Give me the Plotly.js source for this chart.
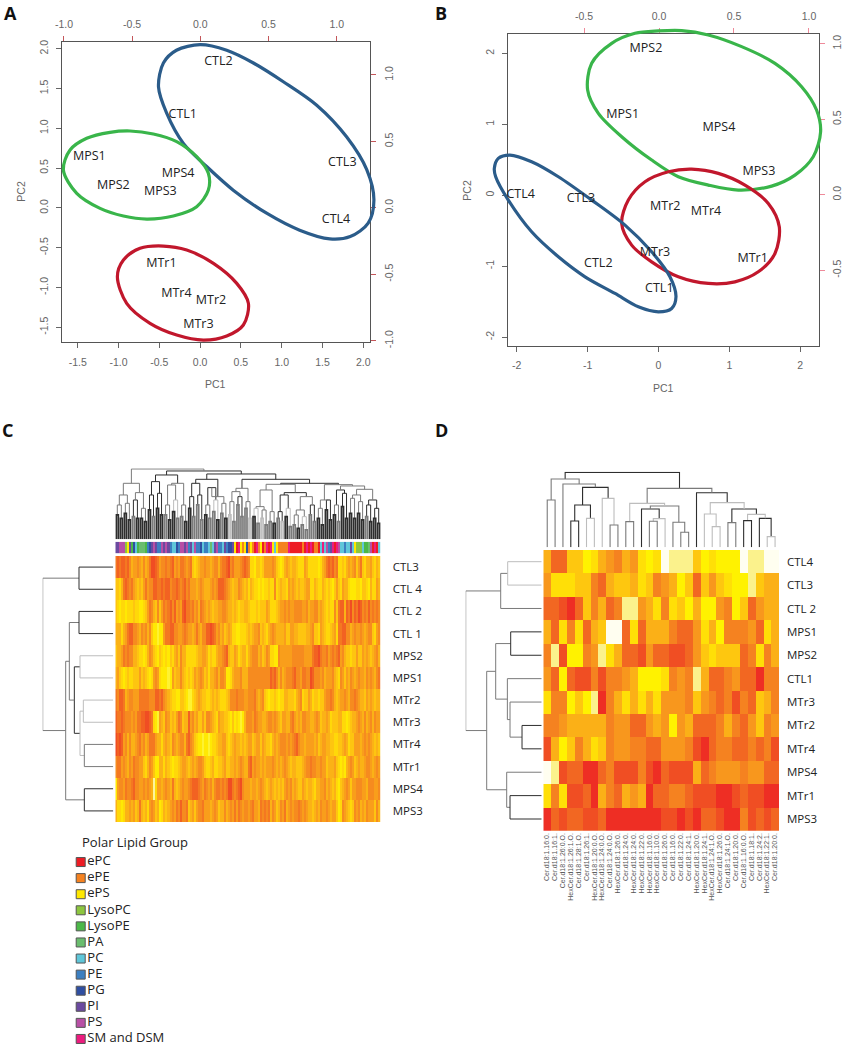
<!DOCTYPE html>
<html>
<head>
<meta charset="utf-8">
<script src="https://cdn.plot.ly/plotly-3.0.1.min.js"></script>
<style>html,body{margin:0;padding:0;background:#fff}#chart{width:850px;height:1050px}</style>
</head>
<body>
<div id="chart"></div>
<script>
// ---------- Panel A ----------
const aLabels = ['CTL1','CTL2','CTL3','CTL4','MPS1','MPS2','MPS3','MPS4','MTr1','MTr2','MTr3','MTr4'];
const aPC1 = [-0.213,0.224,1.743,1.666,-1.357,-1.063,-0.487,-0.27,-0.475,0.134,-0.021,-0.291];
const aPC2 = [1.167,1.832,0.568,-0.152,0.635,0.279,0.204,0.425,-0.705,-1.166,-1.472,-1.078];
const aBlueX = [0,0.326,0.653,1.02,1.429,1.797,2.042,2.13,2.06,1.84,1.59,1.22,0.82,0.41,0.08,-0.205,-0.41,-0.51,-0.45,-0.29,0];
const aBlueY = [2.05,1.98,1.82,1.585,1.29,0.89,0.48,0.10,-0.19,-0.36,-0.39,-0.28,-0.07,0.22,0.52,0.81,1.19,1.52,1.82,1.98,2.05];
const aGreenX = [-1.676,-1.594,-1.39,-1.104,-0.859,-0.573,-0.287,-0.042,0.101,0.101,-0.042,-0.328,-0.654,-0.94,-1.226,-1.512,-1.676];
const aGreenY = [0.476,0.727,0.874,0.949,0.966,0.928,0.832,0.643,0.434,0.224,0.015,-0.102,-0.14,-0.102,-0.006,0.183,0.476];
const aRedX = [-1.014,-0.94,-0.736,-0.45,-0.164,0.163,0.449,0.592,0.53,0.326,0.04,-0.287,-0.614,-0.9,-1.014];
const aRedY = [-0.864,-0.655,-0.508,-0.479,-0.529,-0.697,-0.948,-1.199,-1.471,-1.609,-1.66,-1.597,-1.45,-1.199,-0.864];
// ---------- Panel B ----------
const bLabels = ['MPS2','MPS1','MPS4','MPS3','CTL4','CTL3','CTL2','CTL1','MTr2','MTr4','MTr3','MTr1'];
const bPC1 = [-0.176,-0.505,0.853,1.417,-1.944,-1.093,-0.848,0.012,0.096,0.67,-0.049,1.328];
const bPC2 = [2.061,1.13,0.952,0.327,0.002,-0.054,-0.961,-1.314,-0.162,-0.233,-0.806,-0.895];
const bGreenX = [0,0.327,0.703,1.173,1.643,2.019,2.23,2.287,2.183,1.925,1.596,1.126,0.703,0.28,-0.096,-0.519,-0.848,-0.999,-0.942,-0.66,-0.331,0];
const bGreenY = [2.315,2.32,2.258,2.094,1.859,1.53,1.201,0.895,0.543,0.284,0.129,0.073,0.143,0.261,0.496,0.825,1.154,1.483,1.859,2.141,2.282,2.315];
const bRedX = [-0.519,-0.425,-0.19,0.139,0.468,0.844,1.22,1.549,1.704,1.643,1.408,1.079,0.703,0.28,-0.096,-0.378,-0.519];
const bRedY = [-0.397,-0.068,0.19,0.331,0.369,0.308,0.143,-0.115,-0.444,-0.82,-1.079,-1.22,-1.243,-1.149,-0.938,-0.703,-0.397];
const bBlueX = [-2.315,-2.259,-2.094,-1.789,-1.412,-0.942,-0.472,-0.096,0.162,0.247,0.186,0,-0.284,-0.613,-1.036,-1.412,-1.789,-2.118,-2.296,-2.315];
const bBlueY = [0.378,0.519,0.566,0.472,0.261,-0.068,-0.421,-0.797,-1.149,-1.431,-1.596,-1.643,-1.572,-1.384,-1.149,-0.867,-0.515,-0.068,0.261,0.378];
// ---------- Panel C ----------
const cRowLabels = ['CTL3','CTL 4','CTL 2','CTL 1','MPS2','MPS1','MTr2','MTr3','MTr4','MTr1','MPS4','MPS3'];
const cRows = [
'21211213544 34535420012 43323214342 23432676544 34454335322 10324443212 37786676444 43467875456 55677745777 77875421213 27767545436 42675546756',
'66752123245 65642433112 21211322123 21324445434 55543431112 34565534565 75677878776 77376566745 45656654477 56775676786 46745578887 78667857745',
'67877877767 78876423563 64232131434 10223243523 45456554433 45565676655 67776766645 77765443434 43333443544 33545676773 62115120312 01323132323',
'55575421133 45343536889 88422113344 32344542453 31101243546 54577887776 56544365675 43455554664 45566665543 66745677654 72211335434 43454336743',
'65542323355 67787534678 67878675463 55777776554 45767754432 15664576557 54333546534 77883444444 33333344442 11023324323 21435667664 66454565435',
'54678767766 64656787434 78889846553 56767645434 65755435334 88754443555 33333333333 12135354333 21334223301 33343544435 67346453454 34453434532',
'23112543344 42222233311 21345677886 67899765456 67765656777 65333233344 33324543678 77678775566 67543766457 66766433235 65443453323 45564545655',
'12212333434 22110012789 45634656423 65514354664 63345674556 67868789853 33423445543 34345644553 24545334455 43465545766 65577876554 34535435344',
'01014353554 32435422245 57545634543 35213467889 88987765544 67654556565 44654464566 75454333434 32134454444 54654455667 76654576644 45434345656',
'32243453423 34467534688 55756787765 44565454334 67765776654 66554543455 21434454544 43454543456 55666543323 34434465554 67878543465 45543345434',
'84334233213 34434345a74 45434525654 34432111234 23435322323 20023210344 45445434565 45656564343 54566456556 75544354565 78654346443 33445333443',
'57787554546 52565743465 87565434231 33265464332 44454346553 54342423433 43244523232 53465342543 43323434556 54534434544 68734567634 35453444635'
];
const cGroupBar = 'jjkkkdcjeig efffehijkjh hkjkjhggihk kjkhjgkhhig hhgfgjkhhgj hiijcalcbci bcbalbcabla lcgcbbbbbla aaaaabalala bbaglgkhjla lkgghggjgcd ddgeefkalag';
const legendGroups = ['ePC','ePE','ePS','LysoPC','LysoPE','PA','PC','PE','PG','PI','PS','SM and DSM'];
const legendColors = ['#ed1c24','#f58220','#ffe800','#8dc63f','#4cb848','#6abd6e','#5fc6d9','#3c7fc1','#2f4fa2','#6b4aa0','#b84fa5','#ec1c7e'];
// column dendrogram of C: heights are read as y positions of the merge lines
const cPairTops = [195,205,190,210,200,205,205,215,180,200,175,195,195,210,185,205,200,215,175,200,165,210,195,205,185,210,190,205,195,215,165,200,175,205,200,220,205,225,215,220,205,215,200,230,225,235,225,240,195,215,205,225,180,210,195,215,170,205,190,205,190,210,200,215,205,220];
const cPairTones = '000010000100100110011101101021111201211012011011110000010000001000 00'.replace(/ /g,'');
const cGroupTops = [165,160,150,175,135,130,165,150,165,140,135,165,150,160,155,140,155,175,180,185,185,175,195,200,165,175,150,165,130,145,155,165,175];
const cGroupTones = [1,1,0,1,0,0,1,2,1,0,0,1,2,1,1,0,1,2,1,1,0,2,1,2,0,1,0,1,0,1,1,0,0];
const cUpperTree = [[[0,1,135,1],[2,3,128,1],100,1],
  [[[4,5,95,0],[[6,7,105,1],8,100,1],75,0],
   [[[9,10,100,0],[[11,12,113,0],13,140,1],88,0],
    [[[14,15,125,1],16,115,1],
     [[[[17,18,170,1],19,120,1],[[20,21,135,0],[[22,23,180,1],24,140,1],128,0],103,1],
      [[25,26,150,1],[[27,28,120,0],[[29,30,135,1],[31,32,150,0],118,1],108,1],104,1],100,0],88,0],72,0],63,0],57,1];
const cRowTree = [[1,2,103,0],[[[3,4,103,0],[[5,6,100,2],[[7,8,90,2],[9,10,87,1],100,2],117,0],132,1],[11,12,87,0],143,1],212,1];
// ---------- Panel D ----------
const dRowLabels = ['CTL4','CTL3','CTL 2','MPS1','MPS2','CTL1','MTr3','MTr2','MTr4','MPS4','MTr1','MPS3'];
const dColLabels = ['Cer.d18:1.16:0.','Cer.d18:1.16:1.','Cer.d18:1.26:0.O.','HexCer.d18:1.26:1.O.','Cer.d18:1.28:1.O.','Cer.d18:1.26:1.','HexCer.d18:1.20:0.O.','HexCer.d18:1.24:0.O.','Cer.d18:1.24:0.O.','HexCer.d18:1.26:0.','Cer.d18:1.24:0.','HexCer.d18:1.24:0.','HexCer.d18:1.22:0.','HexCer.d18:1.16:0.','HexCer.d18:1.10:0.','Cer.d18:1.26:0.','Cer.d18:1.16:0.','Cer.d18:1.22:0.','Cer.d18:1.24:1.','HexCer.d18:1.20:0.','HexCer.d18:1.24:1.','HexCer.d18:1.24:1.O.','HexCer.d18:1.26:0.','Cer.d18:1.24:1.O.','Cer.d18:1.20:0.','Cer.d18:1.16:0.O.','Cer.d18:1.18:1.','Cer.d18:1.24:2.','HexCer.d18:1.22:1.','Cer.d18:1.20:0.'];
const dCTL4 = [5,2,2,6,6,8,7,5,4,3,5,4,7,8,7,10,9,9,9,6,8,7,8,8,8,10,9,9,10,10];
const dCTL3 = [4,7,7,7,6,6,3,2,5,6,6,5,7,6,3,4,5,8,6,2,6,4,6,7,8,8,9,6,5,5];
const dCTL2 = [2,2,1,0,2,6,3,5,2,3,9,9,4,5,7,3,7,6,8,5,8,8,4,3,8,6,2,4,5,5];
const dMPS1 = [5,2,7,3,7,2,5,6,10,10,2,7,2,5,5,5,3,2,2,4,7,5,8,3,3,3,4,2,7,5];
const dMPS2 = [3,9,1,8,8,3,4,9,7,5,2,2,1,4,2,2,1,1,2,4,6,7,6,6,6,2,3,7,3,5];
const dCTL1 = [4,2,8,2,1,1,3,1,3,3,4,5,8,8,8,7,3,4,3,9,5,2,2,3,4,2,2,0,3,3];
const dMTr3 = [7,3,3,8,6,8,9,0,3,5,7,5,7,5,7,4,4,4,3,6,4,3,2,3,1,3,2,6,5,3];
const dMTr2 = [3,3,4,5,5,5,5,5,3,4,4,2,2,4,5,4,8,4,5,2,2,2,3,5,3,2,4,6,3,4];
const dMTr4 = [1,5,8,6,3,5,7,6,3,4,4,3,3,2,2,4,4,4,3,1,0,2,3,3,2,2,3,2,3,1];
const dMPS4 = [10,9,1,2,2,0,0,2,3,1,1,1,3,1,0,2,1,1,1,5,2,3,4,4,4,3,4,4,2,2];
const dMTr1 = [7,3,7,1,1,2,0,5,3,2,5,4,5,0,2,2,3,3,2,1,1,1,0,0,1,2,1,1,0,0];
const dMPS3 = [0,2,1,2,2,1,1,2,0,0,0,0,0,0,0,1,1,0,1,0,2,2,1,0,0,3,1,2,1,2];
const dColTree = [[[1,2,142,1],[3,[[[4,5,79,0],[6,7,87,2],127,0],[8,[9,10,67,1],147,2],180,0],190,1],205,1],
  [[[11,12,77,1],[[13,[[14,15,78,1],16,86,2],115,0],[17,[18,19,45,1],75,1],124,1],132,2],
   [20,[[21,[22,23,62,2],100,2],[[24,25,74,1],[[26,27,80,0],[28,[29,30,32,2],87,0],99,2],115,0],134,2],164,0],177,1],225,0];
const dRowTree = [[[1,2,102,2],3,123,1],[[[4,5,93,0],[6,[7,[8,9,59,0],95,1],103,1],138,1],[10,[11,12,95,0],105,1],165,1],228,1];

// ---------- styles ----------
const W = 850, H = 1050;
const BLUE = '#2b5c8a', GREEN = '#39b54a', RED = '#c1172c';
const TONES = ['#2e2e2e','#7a7a7a','#bdbdbd'];
const heatScale = ['#ee2e24','#f04e23','#f26722','#f58220','#f8971d','#fbb017','#fec70f','#ffdf07','#fff200','#fbf28c','#fffef0']
  .map((c,i)=>[i/10,c]);
const groupScale = [];
legendColors.forEach((c,i)=>{groupScale.push([i/12,c]);groupScale.push([(i+1)/12,c]);});
const TICK = {family:'Liberation Sans, Arial, sans-serif',size:10.5,color:'#666'};
const TXT = 'Open Sans, sans-serif';

const layout = {width:W,height:H,margin:{l:0,r:0,t:0,b:0,pad:0},paper_bgcolor:'#fff',plot_bgcolor:'rgba(0,0,0,0)',showlegend:false,hovermode:false,annotations:[]};
const data = [];
let axisN = 0;
function dom(a,b,isY){return isY?[1-b/H,1-a/H]:[a/W,b/W];}
function addAxes(px,xr,yr,xo,yo){
  axisN++; const s = axisN===1?'':String(axisN);
  const xa='xaxis'+s, ya='yaxis'+s, xid='x'+s, yid='y'+s;
  layout[xa]=Object.assign({domain:dom(px[0],px[1],false),range:xr,anchor:yid,visible:false,fixedrange:true,showgrid:false,zeroline:false},xo||{});
  layout[ya]=Object.assign({domain:dom(px[2],px[3],true),range:yr,anchor:xid,visible:false,fixedrange:true,showgrid:false,zeroline:false},yo||{});
  return {x:xid,y:yid};
}
function tickAxis(side,vals,txt,color,standoff,angle){
  return {visible:true,side:side,showline:true,linecolor:'#555',linewidth:1,ticks:'outside',ticklen:5,tickwidth:1,tickcolor:color,
    tickmode:'array',tickvals:vals,ticktext:txt,tickfont:TICK,tickangle:angle,ticklabelstandoff:standoff,automargin:false};
}
function fmt(list){const dec=list.some(v=>!Number.isInteger(v));return list.map(v=>dec?v.toFixed(1):String(v));}
function biplot(px,xr,yr,tr,rr,xT,yT,tT,rT,tickColor,labels,px1,pc2,ellipses,fontSize){
  const a = addAxes(px,xr,yr,Object.assign(tickAxis('bottom',xT,fmt(xT),'#666',5,0),{mirror:true}),Object.assign(tickAxis('left',yT,fmt(yT),'#666',4,-90),{mirror:true}));
  data.push({type:'scatter',mode:'markers',x:[xT[0]],y:[yT[0]],xaxis:a.x,yaxis:a.y,marker:{opacity:0},hoverinfo:'skip'});
  // secondary scale on the top and the right of the box
  const b = addAxes(px,tr,rr,tickAxis('top',tT,tT.map(v=>v.toFixed(1)),tickColor,4,0),tickAxis('right',rT,rT.map(v=>v.toFixed(1)),tickColor,4,-90));
  layout['xaxis'+b.x.slice(1)].overlaying = a.x;
  layout['yaxis'+b.y.slice(1)].overlaying = a.y;
  data.push({type:'scatter',mode:'markers',x:[tT[0]],y:[rT[0]],xaxis:b.x,yaxis:b.y,marker:{opacity:0},hoverinfo:'skip'});
  // same scale as the box, on a wider hidden frame, because the ellipses overrun the box
  const E = 30;
  const ux=(xr[1]-xr[0])/(px[1]-px[0]), uy=(yr[1]-yr[0])/(px[3]-px[2]);
  const c = addAxes([px[0]-E,px[1]+E,px[2]-E,px[3]+E],[xr[0]-E*ux,xr[1]+E*ux],[yr[0]-E*uy,yr[1]+E*uy]);
  ellipses.forEach(e=>data.push({type:'scatter',mode:'lines',x:e[0],y:e[1],xaxis:c.x,yaxis:c.y,cliponaxis:false,line:{color:e[2],width:3.2,shape:'spline',smoothing:0.9},hoverinfo:'skip'}));
  data.push({type:'scatter',mode:'text',x:px1,y:pc2,text:labels,textposition:'middle center',xaxis:c.x,yaxis:c.y,cliponaxis:false,textfont:{family:TXT,size:fontSize,color:'#222'},hoverinfo:'skip'});
}
function ann(text,x,y,font,extra){
  layout.annotations.push(Object.assign({xref:'paper',yref:'paper',x:x/W,y:1-y/H,text:text,showarrow:false,xanchor:'center',yanchor:'middle',font:font},extra||{}));
}
// dendrogram: node = [left,right,height,tone], a number is a leaf position
function dendro(tree,ax,horizontal,width,leafWidth){
  const segs = TONES.map(()=>({p:[],h:[]}));
  const leaves = TONES.map(()=>({p:[],h:[]}));
  function walk(n){
    if(typeof n==='number') return {p:n,h:0};
    const l=walk(n[0]), r=walk(n[1]);
    const s=(typeof n[0]==='number'&&typeof n[1]==='number')?leaves[n[3]]:segs[n[3]];
    s.p.push(l.p,l.p,r.p,r.p,null); s.h.push(l.h,n[2],n[2],r.h,null);
    return {p:(l.p+r.p)/2,h:n[2]};
  }
  walk(tree);
  const put=(s,i,w)=>data.push({type:'scatter',mode:'lines',x:horizontal?s.h:s.p,y:horizontal?s.p:s.h,xaxis:ax.x,yaxis:ax.y,cliponaxis:false,line:{color:TONES[i],width:w},hoverinfo:'skip'});
  segs.forEach((s,i)=>put(s,i,width));
  leaves.forEach((s,i)=>put(s,i,leafWidth));
}
function heat(z,ax,scale,zmin,zmax,xv,yv){
  data.push({type:'heatmap',z:z,x:xv,y:yv,xaxis:ax.x,yaxis:ax.y,colorscale:scale,zmin:zmin,zmax:zmax,showscale:false,hoverinfo:'skip',zsmooth:false});
}
function rowAxis(labels,stand,size){
  return {visible:true,side:'right',showline:false,ticks:'',tickmode:'array',tickvals:labels.map((_,i)=>i+1),ticktext:labels,
    tickfont:{family:TXT,size:size,color:'#222'},ticklabelstandoff:stand};
}

// ---------- A ----------
biplot([62.3,370,42.3,342.3],[-1.689,2.082],[-1.688,2.08],[-1.012,1.244],[-1.012,1.246],
  [-1.5,-1,-0.5,0,0.5,1,1.5,2],[-1.5,-1,-0.5,0,0.5,1,1.5,2],[-1,-0.5,0,0.5,1],[-1,-0.5,0,0.5,1],'#c4565a',
  aLabels,aPC1,aPC2,[[aBlueX,aBlueY,BLUE],[aGreenX,aGreenY,GREEN],[aRedX,aRedY,RED]],12.5);
// ---------- B ----------
biplot([508.3,818.7,34.3,345.7],[-2.118,2.26],[-2.12,2.268],[-1.005,1.065],[-1,1.062],
  [-2,-1,0,1,2],[-2,-1,0,1,2],[-0.5,0,0.5,1],[-0.5,0,0.5,1],'#ef8a9a',
  bLabels,bPC1,bPC2,[[bGreenX,bGreenY,GREEN],[bRedX,bRedY,RED],[bBlueX,bBlueY,BLUE]],12.5);
const axisTitle = {family:'Liberation Sans, Arial, sans-serif',size:10.5,color:'#666'};
ann('PC1',215.7,384,axisTitle); ann('PC2',21,191.7,axisTitle,{textangle:-90});
ann('PC1',663,388,axisTitle); ann('PC2',466.7,190,axisTitle,{textangle:-90});
const panelFont = {family:TXT,size:18,color:'#111'};
ann('<b>A</b>',10,13,panelFont); ann('<b>B</b>',440.7,13,panelFont);
ann('<b>C</b>',8,430,panelFont); ann('<b>D</b>',441,430,panelFont);

// ---------- C ----------
const cZ = cRows.map(r=>r.replace(/ /g,'').split('').map(c=>parseInt(c,11)));
const cCols = cZ[0].map((_,i)=>i);
const cRowPos = cRowLabels.map((_,i)=>i+1);
const cHeat = addAxes([115.3,380.7,556,822],[-0.5,131.5],[12.5,0.5],{},rowAxis(cRowLabels,11,11.5));
heat(cZ,cHeat,heatScale,-1.2,11,cCols,cRowPos);
const cBar = addAxes([115.3,380.7,541.7,553.3],[-0.5,131.5],[-0.5,0.5]);
const cBarZ = [cGroupBar.replace(/ /g,'').split('').map(c=>c.charCodeAt(0)-97)];
heat(cBarZ,cBar,groupScale,0,12,cCols,[0]);
// build the column tree of C from its pairs, groups and upper merges
const cGroups = cGroupTops.map((t,k)=>{
  const i=4*k;
  return [[i,i+1,268-cPairTops[2*k],+cPairTones[2*k]],[i+2,i+3,268-cPairTops[2*k+1],+cPairTones[2*k+1]],268-t,cGroupTones[k]];
});
function expandC(n){return typeof n==='number'?cGroups[n]:[expandC(n[0]),expandC(n[1]),268-n[2],n[3]];}
const cTop = addAxes([115.3,380.7,468.3,539.3],[-0.5,131.5],[0,213]);
dendro(expandC(cUpperTree),cTop,false,1,1.7);
const cLeft = addAxes([42.7,113.3,556,822],[212,0],[12.5,0.5]);
dendro(cRowTree,cLeft,true,1,1);

// legend of polar lipid groups
const lg = addAxes([70,250,854,1047],[70,250],[11.5,-0.5]);
data.push({type:'scatter',mode:'markers+text',x:legendGroups.map(()=>80.7),y:legendGroups.map((_,i)=>i),text:legendGroups,textposition:'middle right',
  xaxis:lg.x,yaxis:lg.y,cliponaxis:false,textfont:{family:TXT,size:13,color:'#222'},
  marker:{symbol:'square',size:9,color:legendColors,line:{color:'#555',width:1}},hoverinfo:'skip'});
ann('Polar Lipid Group',80,841.7,{family:TXT,size:13,color:'#222'},{xanchor:'left'});

// ---------- D ----------
const dZ = [dCTL4,dCTL3,dCTL2,dMPS1,dMPS2,dCTL1,dMTr3,dMTr2,dMTr4,dMPS4,dMTr1,dMPS3];
const dCols = dColLabels.map((_,i)=>i+1);
const dHeat = addAxes([543.3,779,550,830.7],[0.5,30.5],[12.5,0.5],
  {visible:true,side:'bottom',showline:false,ticks:'',tickmode:'array',tickvals:dCols,ticktext:dColLabels,tickangle:-90,
   tickfont:{family:'Liberation Sans, Arial, sans-serif',size:7,color:'#555'},ticklabelstandoff:0},
  rowAxis(dRowLabels,7,11.5));
heat(dZ,dHeat,heatScale,0,10,dCols,dRowLabels.map((_,i)=>i+1));
const dTop = addAxes([543.3,779,471.7,547.3],[0.5,30.5],[0,227]);
dendro(dColTree,dTop,false,1.1,1.1);
const dLeft = addAxes([465.7,541.7,550,830.7],[228,0],[12.5,0.5]);
dendro(dRowTree,dLeft,true,1,1);

Plotly.newPlot('chart',data,layout,{staticPlot:true,displayModeBar:false});
</script>
</body>
</html>
